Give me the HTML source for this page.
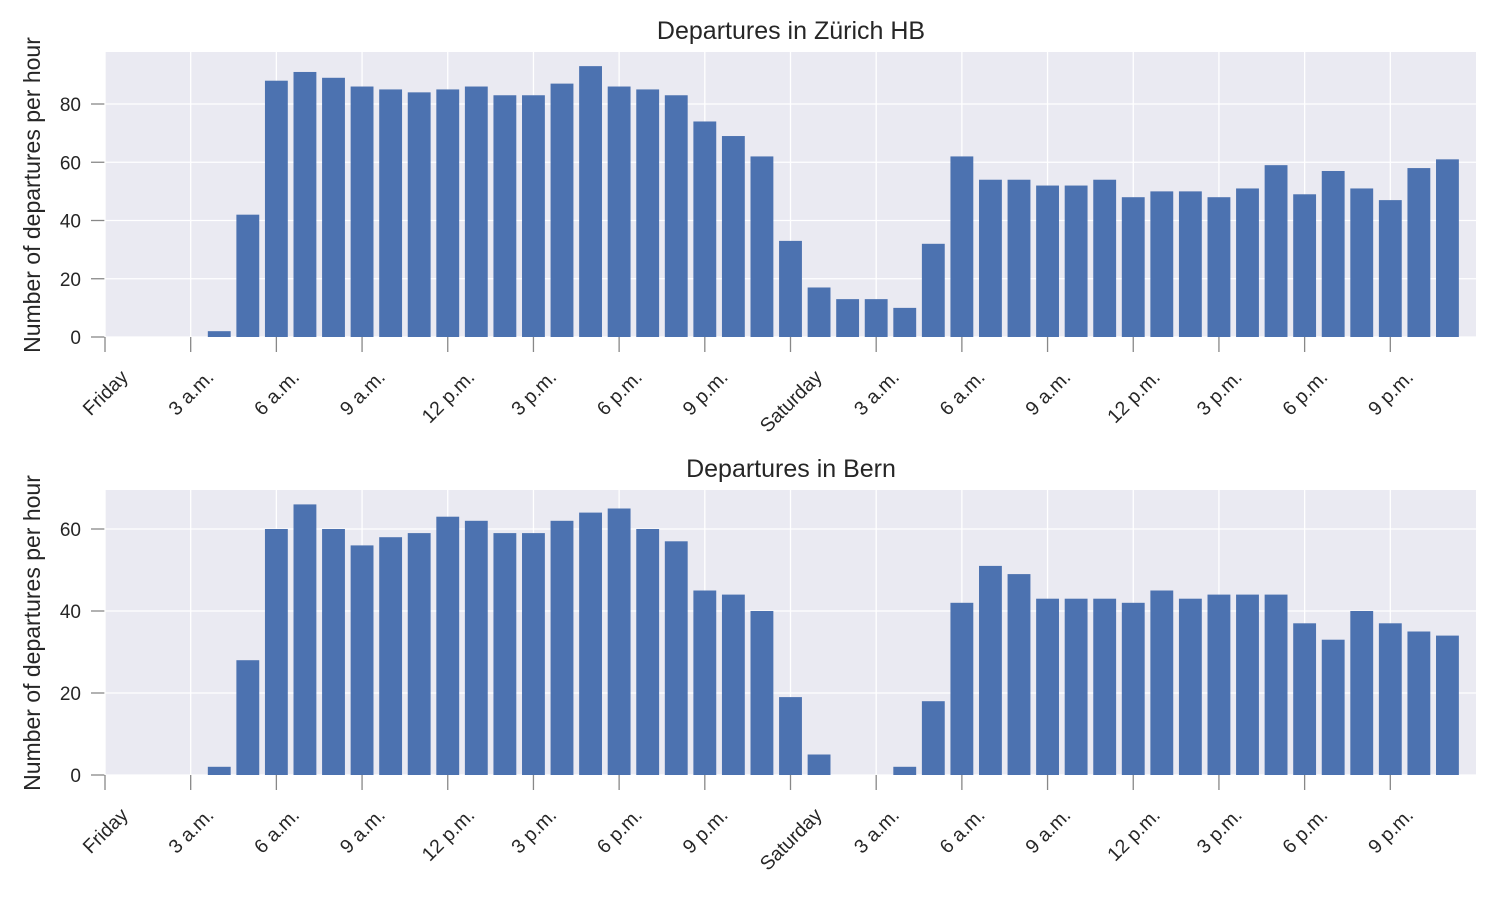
<!DOCTYPE html>
<html><head><meta charset="utf-8"><style>
body{margin:0;background:#fff}
svg{display:block;font-family:"Liberation Sans",Arial,sans-serif}
text{fill:#262626}
</style></head><body>
<svg id="s" width="1500" height="900" xmlns="http://www.w3.org/2000/svg">
<g id="g1"></g><g id="g2"></g>
<text x="791" y="39" font-size="25" text-anchor="middle">Departures in Zürich HB</text>
<text x="791" y="477" font-size="25" text-anchor="middle">Departures in Bern</text>
<text transform="translate(40,195) rotate(-90)" font-size="23" text-anchor="middle">Number of departures per hour</text>
<text transform="translate(40,633) rotate(-90)" font-size="23" text-anchor="middle">Number of departures per hour</text>
<g font-size="19.5" class="xl1">
<text>Friday</text><text>3 a.m.</text><text>6 a.m.</text><text>9 a.m.</text><text>12 p.m.</text><text>3 p.m.</text><text>6 p.m.</text><text>9 p.m.</text><text>Saturday</text><text>3 a.m.</text><text>6 a.m.</text><text>9 a.m.</text><text>12 p.m.</text><text>3 p.m.</text><text>6 p.m.</text><text>9 p.m.</text>
</g>
<g font-size="19.5" class="xl2">
<text>Friday</text><text>3 a.m.</text><text>6 a.m.</text><text>9 a.m.</text><text>12 p.m.</text><text>3 p.m.</text><text>6 p.m.</text><text>9 p.m.</text><text>Saturday</text><text>3 a.m.</text><text>6 a.m.</text><text>9 a.m.</text><text>12 p.m.</text><text>3 p.m.</text><text>6 p.m.</text><text>9 p.m.</text>
</g>
<g font-size="19" text-anchor="end" class="yl1"><text>0</text><text>20</text><text>40</text><text>60</text><text>80</text></g>
<g font-size="19" text-anchor="end" class="yl2"><text>0</text><text>20</text><text>40</text><text>60</text></g>
</svg>
<script>
var NS="http://www.w3.org/2000/svg";
var z=[0,0,0,0,2,42,88,91,89,86,85,84,85,86,83,83,87,93,86,85,83,74,69,62,33,17,13,13,10,32,62,54,54,52,52,54,48,50,50,48,51,59,49,57,51,47,58,61];
var b=[0,0,0,0,2,28,60,66,60,56,58,59,63,62,59,59,62,64,65,60,57,45,44,40,19,5,0,0,2,18,42,51,49,43,43,43,42,45,43,44,44,44,37,33,40,37,35,34];
var L=105,R=1476,ph=(R-L)/48;
function el(p,n,a){var e=document.createElementNS(NS,n);for(var k in a)e.setAttribute(k,a[k]);p.appendChild(e);return e;}
function plot(g,data,top,bot,scale,ymax,xcls,ycls){
 el(g,"rect",{x:L,y:top,width:R-L,height:bot-top,fill:"#EAEAF2"});
 for(var v=0;v<=ymax;v+=20){var y=bot-v*scale;el(g,"line",{x1:L,x2:R,y1:y,y2:y,stroke:"#fff","stroke-width":1.3});el(g,"line",{x1:91,x2:L,y1:y,y2:y,stroke:"#888","stroke-width":1.3});}
 for(var i=0;i<16;i++){var x=L+i*3*ph;el(g,"line",{x1:x,x2:x,y1:top,y2:bot,stroke:"#fff","stroke-width":1.3});el(g,"line",{x1:x,x2:x,y1:bot,y2:bot+15,stroke:"#888","stroke-width":1.3});}
 for(var h=0;h<48;h++){if(!data[h])continue;var c=L+h*ph,w=ph*0.8;el(g,"rect",{x:c-w/2,y:bot-data[h]*scale,width:w,height:data[h]*scale,fill:"#4C72B0"});}
 var ys=document.querySelectorAll("."+ycls+" text");for(var j=0;j<ys.length;j++){ys[j].setAttribute("x",81);ys[j].setAttribute("y",bot-j*20*scale+7);}
 var xs=document.querySelectorAll("."+xcls+" text");
 for(var j=0;j<xs.length;j++){var t=xs[j];t.setAttribute("text-anchor","middle");var w=t.getComputedTextLength?t.getComputedTextLength():60;var hh=(w+15)*0.7071/2;var x=L+j*3*ph;var cy=bot+31+hh;t.setAttribute("x",x);t.setAttribute("y",cy+7);t.setAttribute("transform","rotate(-45 "+x+" "+cy+")");}
}
plot(document.getElementById("g1"),z,52,337,233/80,80,"xl1","yl1");
plot(document.getElementById("g2"),b,490,775,246/60,60,"xl2","yl2");
</script>
</body></html>
